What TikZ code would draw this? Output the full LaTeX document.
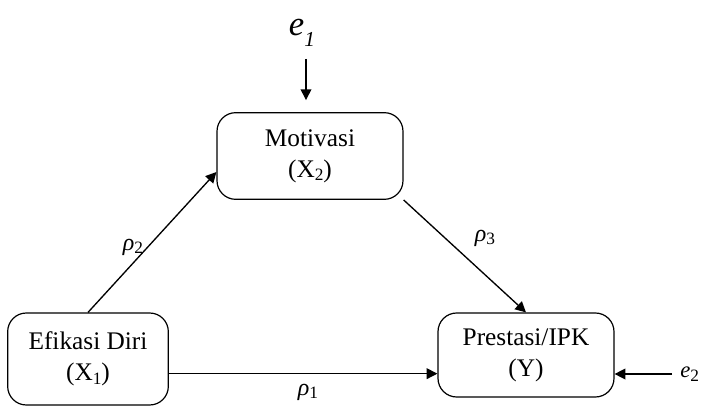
\documentclass[tikz,border=0pt]{standalone}
\usepackage{fontspec}
\setmainfont{Liberation Serif}
\usetikzlibrary{arrows.meta, positioning, calc}
\tikzset{
  varbox/.style  = {draw, line width=0.9pt, rounded corners=14pt, align=center,
                    font=\fontsize{19}{23.5}\selectfont, inner sep=0pt},
  flow/.style    = {-{Triangle[length=8pt, width=8pt]}, line width=1pt},
  coef/.style    = {font=\fontsize{18}{20}\selectfont\itshape, inner sep=0pt},
  errlbl/.style  = {inner sep=0pt},
}
\newcommand{\lowsub}[1]{\raisebox{-2.5pt}{\fontsize{13}{15}\selectfont\upshape #1}}

\begin{document}
\begin{tikzpicture}[x=0.75pt, y=0.75pt]
        \useasboundingbox (0,0) rectangle (703,407);
        \node[varbox, minimum width=139.5pt, minimum height=65pt] (mot) at (310,251) {Motivasi\\(X\lowsub{2})};
        \node[varbox, minimum width=120.5pt, minimum height=69pt] (efi) at (88,48) {Efikasi Diri\\(X\lowsub{1})};
        \node[varbox, minimum width=132pt, minimum height=63pt] (pre) at (526,52) {Prestasi/IPK\\(Y)};
        \node[errlbl] (e1) at (302,374) {\fontsize{26}{30}\selectfont\itshape e\raisebox{-8pt}{\fontsize{16}{18}\selectfont 1}};
        \node[errlbl, anchor=west] (e2) at (680,33) {\fontsize{17}{19}\selectfont\itshape e\lowsub{2}};
        \draw[flow, shorten <=9pt, shorten >=9pt] (e1.south -| 306,0) -- (mot.north -| 306,0);
        \draw[flow] (efi.north) -- ([yshift=-12pt]mot.west);
        \draw[flow] (mot.south east) -- (pre.north);
        \draw[flow] ([yshift=-11pt]efi.east) -- ([yshift=-11pt]efi.east -| pre.west);
        \draw[flow, shorten <=6pt] (e2.west) -- (e2.west -| pre.east);
        \node[coef] (r2) at (133,160) {ρ\lowsub{2}};
        \node[coef] (r3) at (485,169) {ρ\lowsub{3}};
        \node[coef] (r1) at (308,15) {ρ\lowsub{1}};
    \end{tikzpicture}
\end{document}
